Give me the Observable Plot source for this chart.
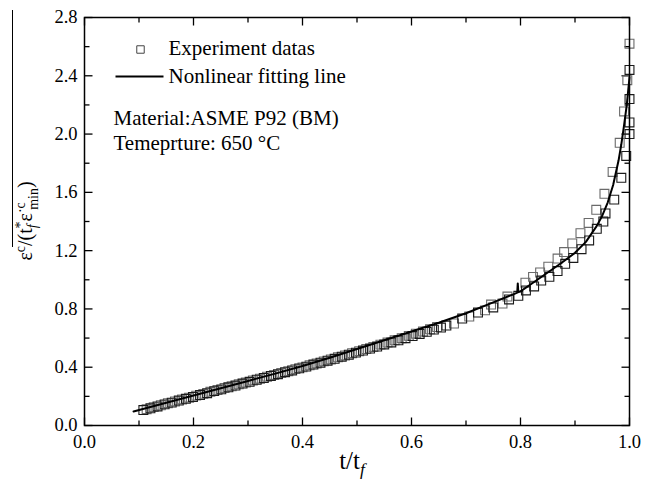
<!DOCTYPE html>
<html>
<head>
<meta charset="utf-8">
<script src="https://cdn.jsdelivr.net/npm/d3@7"></script>
<script src="https://cdn.jsdelivr.net/npm/@observablehq/plot@0.6"></script>
<style>
  body { margin: 0; background: #fff; }
  #wrap { position: relative; width: 659px; height: 481px; font-family: "Liberation Serif", "Times New Roman", serif; color: #000; }
  #wrap svg { position: absolute; left: 0; top: 0; }
  .xlab { position: absolute; left: 352px; top: 447px; transform: translateX(-50%); font-size: 25px; white-space: nowrap; }
  .ylab { position: absolute; left: 27px; top: 221px; transform: translate(-50%, -50%) rotate(-90deg); font-size: 20px; white-space: nowrap; line-height: 1; }
  .ylab sup, .ylab sub, .xlab sub { font-size: 0.7em; }
  .bar { position: absolute; left: 12px; top: 10px; width: 1.3px; height: 237px; background: #000; }
</style>
</head>
<body>
<div id="wrap">
  <div class="bar"></div>
  <div class="ylab">ε<sup>c</sup>/(t<sub><i>f</i></sub><sup style="margin-left:-0.3em">*</sup>ε<sup>·c</sup><sub style="margin-left:-0.55em">min</sub>)</div>
  <div class="xlab">t/t<sub><i>f</i></sub></div>
</div>
<script>
// Experimental data, series A (darker squares)
const tA = [0.108,0.121,0.134,0.147,0.160,0.173,0.186,0.199,0.212,0.225,0.238,0.251,0.264,0.277,0.290,0.303,0.316,0.329,0.342,0.355,0.368,0.381,0.394,0.407,0.420,0.433,0.446,0.459,0.472,0.485,0.498,0.511,0.524,0.537,0.550,0.563,0.576,0.589,0.602,0.615,0.628,0.641,0.654,0.664,0.693,0.722,0.750,0.779,0.796,0.810,0.825,0.838,0.853,0.868,0.882,0.897,0.912,0.926,0.940,0.952,0.956,0.972,0.985,0.994,1.000,1.000,1.000,1.000];
const yA = [0.106,0.118,0.131,0.145,0.157,0.171,0.183,0.196,0.209,0.222,0.236,0.248,0.262,0.274,0.288,0.300,0.314,0.326,0.340,0.352,0.366,0.378,0.392,0.404,0.418,0.431,0.445,0.458,0.472,0.486,0.500,0.514,0.528,0.542,0.556,0.570,0.585,0.599,0.614,0.628,0.643,0.658,0.672,0.686,0.734,0.775,0.810,0.865,0.890,0.927,0.954,0.995,1.020,1.060,1.110,1.150,1.210,1.270,1.350,1.400,1.455,1.550,1.700,1.850,2.000,2.080,2.240,2.440];
// Experimental data, series B (lighter squares)
const tB = [0.114,0.127,0.140,0.153,0.166,0.179,0.192,0.205,0.218,0.231,0.244,0.257,0.270,0.283,0.296,0.309,0.322,0.335,0.348,0.361,0.374,0.387,0.400,0.413,0.426,0.439,0.452,0.465,0.478,0.491,0.504,0.517,0.530,0.543,0.556,0.569,0.582,0.595,0.608,0.621,0.634,0.647,0.678,0.706,0.735,0.746,0.767,0.776,0.809,0.823,0.836,0.851,0.868,0.880,0.895,0.910,0.925,0.939,0.954,0.969,0.982,0.990,0.996,1.000];
const yB = [0.112,0.126,0.139,0.153,0.165,0.179,0.191,0.205,0.217,0.231,0.243,0.257,0.269,0.283,0.295,0.309,0.321,0.335,0.347,0.361,0.373,0.387,0.399,0.413,0.426,0.440,0.453,0.468,0.481,0.496,0.510,0.525,0.539,0.555,0.569,0.585,0.599,0.615,0.630,0.645,0.660,0.676,0.700,0.748,0.790,0.830,0.837,0.885,0.980,1.020,1.050,1.090,1.146,1.190,1.250,1.320,1.390,1.480,1.590,1.740,1.940,2.155,2.370,2.620];
// Nonlinear fitting line
const tFit = [0.09,0.15,0.20,0.25,0.30,0.35,0.40,0.45,0.50,0.55,0.60,0.65,0.70,0.75,0.79,0.794,0.795,0.796,0.80,0.825,0.85,0.875,0.90,0.92,0.94,0.95,0.96,0.97,0.98,0.985,0.99,0.995,1.00];
const yFit = [0.096,0.156,0.206,0.256,0.306,0.356,0.408,0.465,0.525,0.585,0.645,0.705,0.770,0.845,0.905,0.912,0.975,0.915,0.920,0.985,1.050,1.115,1.185,1.260,1.370,1.440,1.530,1.650,1.820,1.930,2.060,2.200,2.390];
// Ticks
const xMajor = [0, 0.2, 0.4, 0.6, 0.8, 1.0];
const xMinor = [0.1, 0.3, 0.5, 0.7, 0.9];
const yMajor = [0, 0.4, 0.8, 1.2, 1.6, 2.0, 2.4, 2.8];
const yMinor = [0.2, 0.6, 1.0, 1.4, 1.8, 2.2, 2.6];
// Legend / annotation texts
const legendLabels = ["Experiment datas", "Nonlinear fitting line"];
const notes = ["Material:ASME P92 (BM)", "Temeprture: 650 °C"];

const A = tA.map((t, i) => ({t, y: yA[i]}));
const B = tB.map((t, i) => ({t, y: yB[i]}));
const fit = tFit.map((t, i) => ({t, y: yFit[i]}));

const seg = (dx, dy) => ({draw(ctx) { ctx.moveTo(0, 0); ctx.lineTo(dx, dy); }});
const hline = (h) => ({draw(ctx) { ctx.moveTo(-h, 0); ctx.lineTo(h, 0); }});
const tk = {fill: "none", stroke: "black", strokeWidth: 1.3};
const fmt = d3.format(".1f");

const chart = Plot.plot({
  width: 659, height: 481,
  marginLeft: 84, marginRight: 30, marginTop: 17, marginBottom: 56,
  style: {fontFamily: "'Liberation Serif', 'Times New Roman', serif", fontSize: "18.5px", color: "black", background: "white"},
  x: {domain: [0, 1]},
  y: {domain: [0, 2.8]},
  marks: [
    Plot.axisX({ticks: xMajor, tickFormat: fmt, tickSize: 0, tickPadding: 9, label: null, fontSize: 18.5}),
    Plot.axisY({ticks: yMajor, tickFormat: fmt, tickSize: 0, tickPadding: 7, label: null, fontSize: 18.5}),
    Plot.dot(xMajor, {x: d => d, frameAnchor: "bottom", symbol: seg(0, -8), ...tk}),
    Plot.dot(xMinor, {x: d => d, frameAnchor: "bottom", symbol: seg(0, -5), ...tk}),
    Plot.dot(xMajor, {x: d => d, frameAnchor: "top", symbol: seg(0, 8), ...tk}),
    Plot.dot(xMinor, {x: d => d, frameAnchor: "top", symbol: seg(0, 5), ...tk}),
    Plot.dot(yMajor, {y: d => d, frameAnchor: "left", symbol: seg(8, 0), ...tk}),
    Plot.dot(yMinor, {y: d => d, frameAnchor: "left", symbol: seg(5, 0), ...tk}),
    Plot.dot(yMajor, {y: d => d, frameAnchor: "right", symbol: seg(-8, 0), ...tk}),
    Plot.dot(yMinor, {y: d => d, frameAnchor: "right", symbol: seg(-5, 0), ...tk}),
    Plot.dot(B, {x: "t", y: "y", symbol: "square", r: 5, fill: "none", stroke: "#6a6a6a", strokeWidth: 1.1}),
    Plot.dot(A, {x: "t", y: "y", symbol: "square", r: 5, fill: "none", stroke: "#1a1a1a", strokeWidth: 1.1}),
    Plot.line(fit, {x: "t", y: "y", stroke: "black", strokeWidth: 2, curve: "linear"}),
    Plot.frame({stroke: "black", strokeWidth: 1.5}),
    // legend
    Plot.dot([legendLabels[0]], {frameAnchor: "top-left", dx: 56, dy: 32, symbol: "square", r: 4.2, fill: "none", stroke: "#444", strokeWidth: 1}),
    Plot.dot([legendLabels[1]], {frameAnchor: "top-left", dx: 55, dy: 59, symbol: hline(24), fill: "none", stroke: "black", strokeWidth: 2}),
    Plot.text([legendLabels[0]], {frameAnchor: "top-left", text: d => d, dx: 84, dy: 31, textAnchor: "start", lineAnchor: "middle", fontSize: 21}),
    Plot.text([legendLabels[1]], {frameAnchor: "top-left", text: d => d, dx: 84, dy: 59, textAnchor: "start", lineAnchor: "middle", fontSize: 21}),
    Plot.text([notes[0]], {frameAnchor: "top-left", text: d => d, dx: 29, dy: 101, textAnchor: "start", lineAnchor: "middle", fontSize: 21}),
    Plot.text([notes[1]], {frameAnchor: "top-left", text: d => d, dx: 29, dy: 126, textAnchor: "start", lineAnchor: "middle", fontSize: 21})
  ]
});
document.getElementById("wrap").prepend(chart);
</script>
</body>
</html>
